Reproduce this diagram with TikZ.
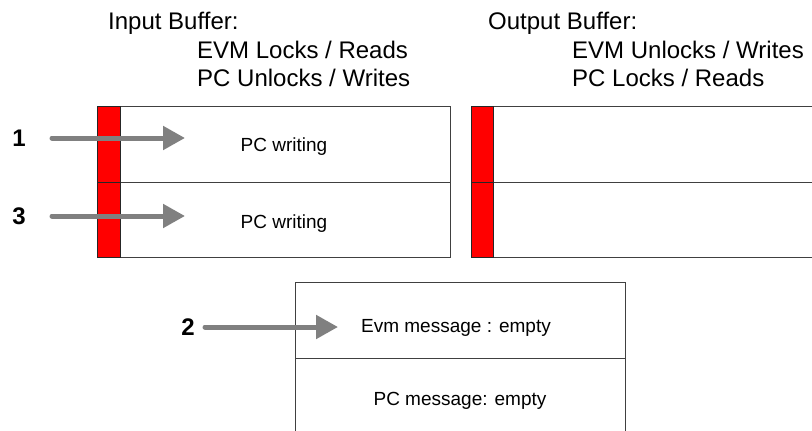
\documentclass[tikz,border=0pt]{standalone}
\usepackage{fontspec}
\setmainfont{Liberation Sans}
\usetikzlibrary{arrows.meta}
\begin{document}
\begin{tikzpicture}[x=1pt,y=-1pt,
  frame/.style={draw=black!75,line width=0.9pt,fill=white},
  lockbar/.style={draw=black!85,line width=0.9pt,fill=red},
  heading/.style={anchor=base west,inner sep=0pt,font=\fontsize{24}{28}\selectfont},
  cell/.style={anchor=base,inner sep=0pt,font=\fontsize{19}{22}\selectfont},
  stepnum/.style={inner sep=0pt,font=\fontsize{24}{28}\selectfont\bfseries},
  flow/.style={draw=black!50,line width=5pt,line cap=round,
    -{Triangle[length=22pt,width=23pt]}}]
\useasboundingbox (0,0) rectangle (812,431);
\begin{scope}
\clip (0,0) rectangle (812,431);
% input buffer
\draw[frame] (97,106) rectangle (450,257);
\draw[frame] (97,182) -- (450,182);
\draw[lockbar] (97,106) rectangle (120,182);
\draw[lockbar] (97,182) rectangle (120,257);
% output buffer
\draw[frame] (471,106) rectangle (830,257);
\draw[frame] (471,182) -- (830,182);
\draw[lockbar] (471,106) rectangle (493,182);
\draw[lockbar] (471,182) rectangle (493,257);
% message area
\draw[frame] (295,282) rectangle (625,450);
\draw[frame] (295,358) -- (625,358);
\end{scope}

% headings
\node[heading] (inh) at (108,30) {Input Buffer:};
\node[heading] (in1) at (197,58) {EVM Locks / Reads};
\node[heading] (in2) at (197,86) {PC Unlocks / Writes};
\node[heading] (outh) at (488,30) {Output Buffer:};
\node[heading] (out1) at (572,58) {EVM Unlocks / Writes};
\node[heading] (out2) at (572,86) {PC Locks / Reads};

% cell texts
\node[cell] (w1) at (284,151) {PC writing};
\node[cell] (w3) at (284,228) {PC writing};
\node[cell] (evm) at (456,332) {Evm message : empty};
\node[cell] (pcm) at (460,405) {PC message: empty};

% step numbers and arrows
\node[stepnum] (s1) at (19,138) {1};
\node[stepnum] (s3) at (19,216) {3};
\node[stepnum] (s2) at (188,327) {2};
\coordinate (t1) at (185,138);
\coordinate (t3) at (185,216);
\coordinate (t2) at (338,327);
\draw[flow] ([xshift=33pt]s1.center) -- (t1);
\draw[flow] ([xshift=33pt]s3.center) -- (t3);
\draw[flow] ([xshift=17pt]s2.center) -- (t2);
\end{tikzpicture}
\end{document}
